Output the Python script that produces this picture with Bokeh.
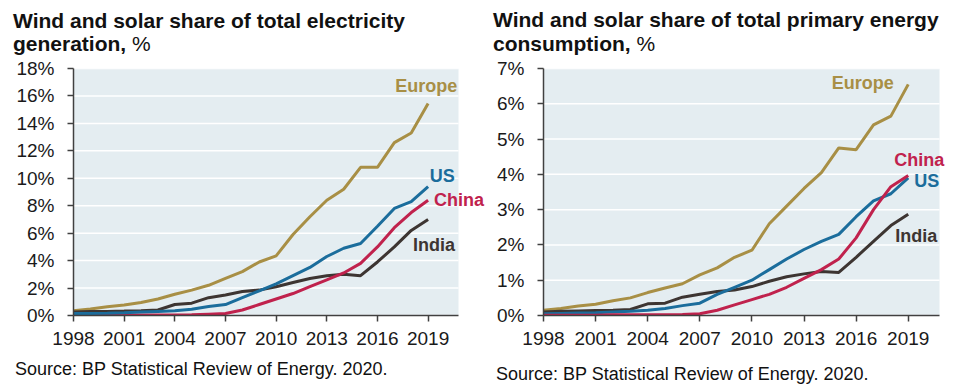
from bokeh.plotting import figure
from bokeh.models import Label, FixedTicker, PrintfTickFormatter, Range1d, BoxAnnotation, Div
from bokeh.layouts import row, column
from bokeh.embed import file_html
from bokeh.resources import INLINE

years = list(range(1998, 2020))
x_ticks = [1998, 2001, 2004, 2007, 2010, 2013, 2016, 2019]
X_END = 2020.8

# Left panel: share of total electricity generation, %
elec_europe = [0.35, 0.47, 0.64, 0.76, 0.95, 1.2, 1.55, 1.85, 2.2, 2.7, 3.2, 3.9, 4.35, 5.9, 7.2, 8.4, 9.2, 10.8, 10.8, 12.6, 13.3, 15.45]
elec_us = [0.15, 0.15, 0.16, 0.2, 0.25, 0.3, 0.35, 0.45, 0.65, 0.8, 1.3, 1.8, 2.3, 2.9, 3.5, 4.3, 4.9, 5.25, 6.5, 7.8, 8.3, 9.4]
elec_china = [0.02, 0.02, 0.02, 0.03, 0.03, 0.03, 0.04, 0.05, 0.1, 0.15, 0.4, 0.8, 1.2, 1.6, 2.1, 2.6, 3.1, 3.8, 5.0, 6.4, 7.5, 8.4]
elec_india = [0.25, 0.3, 0.3, 0.32, 0.35, 0.4, 0.8, 0.9, 1.3, 1.5, 1.75, 1.85, 2.1, 2.4, 2.7, 2.9, 3.0, 2.9, 3.9, 5.0, 6.2, 7.0]
elec_y_ticks = [0, 2, 4, 6, 8, 10, 12, 14, 16, 18]

# Right panel: share of total primary energy consumption, %
prim_europe = [0.15, 0.2, 0.27, 0.32, 0.42, 0.5, 0.65, 0.78, 0.9, 1.15, 1.35, 1.65, 1.85, 2.6, 3.1, 3.6, 4.05, 4.75, 4.7, 5.4, 5.65, 6.55]
prim_us = [0.05, 0.06, 0.07, 0.08, 0.1, 0.12, 0.15, 0.2, 0.28, 0.35, 0.6, 0.8, 1.0, 1.3, 1.6, 1.87, 2.1, 2.3, 2.8, 3.25, 3.45, 3.9]
prim_china = [0.01, 0.01, 0.01, 0.01, 0.02, 0.02, 0.02, 0.02, 0.03, 0.05, 0.15, 0.3, 0.45, 0.6, 0.8, 1.05, 1.3, 1.6, 2.2, 3.0, 3.65, 3.97]
prim_india = [0.1, 0.12, 0.13, 0.14, 0.15, 0.17, 0.33, 0.35, 0.52, 0.6, 0.68, 0.72, 0.82, 0.97, 1.1, 1.18, 1.25, 1.22, 1.65, 2.1, 2.55, 2.87]
prim_y_ticks = [0, 1, 2, 3, 4, 5, 6, 7]

C_EUROPE = "#a88f45"
C_US = "#1b6d9c"
C_CHINA = "#c0224d"
C_INDIA = "#3d3532"
BG = "#e4edf1"
AXIS = "#404040"
FONT = "Liberation Sans"


def make_panel(width, height, ymax, yticks, borders, px_per_year):
    left, top, bottom = borders
    frame_w = width - left
    x_max = 1998 + frame_w / px_per_year
    p = figure(width=width, height=height, output_backend="svg", toolbar_location=None,
               x_range=Range1d(1998, x_max), y_range=Range1d(0, ymax),
               min_border_left=left, min_border_right=0,
               min_border_top=top, min_border_bottom=bottom)
    p.outline_line_color = None
    p.background_fill_color = "white"
    p.border_fill_color = "white"
    p.xgrid.grid_line_color = None
    p.ygrid.grid_line_color = None
    p.add_layout(BoxAnnotation(left=1998, right=X_END, bottom=0, top=ymax,
                               fill_color=BG, fill_alpha=1, line_color=None, level="underlay"))
    n = len(yticks)
    p.segment(x0=[1998] * n, x1=[X_END] * n, y0=yticks, y1=yticks,
              line_color="white", line_width=1.5)
    p.xaxis.ticker = FixedTicker(ticks=x_ticks)
    p.xaxis.bounds = (1998, X_END)
    p.yaxis.ticker = FixedTicker(ticks=yticks)
    p.yaxis.formatter = PrintfTickFormatter(format="%d%%")
    for ax in (p.xaxis, p.yaxis):
        ax.axis_line_color = AXIS
        ax.axis_line_width = 1.5
        ax.major_tick_line_color = AXIS
        ax.major_tick_line_width = 1.5
        ax.major_tick_out = 6
        ax.major_tick_in = 0
        ax.minor_tick_line_color = None
        ax.major_label_text_font = FONT
        ax.major_label_text_font_size = "19px"
        ax.major_label_text_color = "#1a1a1a"
    p.xaxis.major_label_standoff = 10
    p.yaxis.major_label_standoff = 13
    return p


def add_lines(p, series):
    for vals, col in series:
        p.line(years, vals, line_color=col, line_width=3)


def lab(p, x, y, text, color):
    p.add_layout(Label(x=x, y=y, text=text, text_font=FONT, text_font_size="18px",
                       text_font_style="bold", text_color=color,
                       text_align="left", text_baseline="middle"))


def title_div(width, line1, line2, pad_top, pad_left, line_h):
    html = ('<div style="padding:%.1fpx 0 0 %dpx;font-family:\'Liberation Sans\';font-size:21px;'
            'line-height:%dpx;color:#111;font-weight:bold;white-space:nowrap">%s<br>%s '
            '<span style="font-weight:normal">%%</span></div>') % (pad_top, pad_left, line_h, line1, line2)
    return Div(text=html, width=width, height=56, margin=0)


def source_div(width, pad_top, pad_left):
    html = ('<div style="padding:%.1fpx 0 0 %dpx;font-family:\'Liberation Sans\';font-size:18px;'
            'line-height:17px;color:#111;white-space:nowrap">Source: BP Statistical Review of Energy. 2020.</div>') % (pad_top, pad_left)
    return Div(text=html, width=width, height=29, margin=0)


# ---------- left panel ----------
p1 = make_panel(488, 304, 18, elec_y_ticks, (73, 12, 45), (458 - 73) / (X_END - 1998))
add_lines(p1, [(elec_europe, C_EUROPE), (elec_india, C_INDIA), (elec_china, C_CHINA), (elec_us, C_US)])
lab(p1, 2017.05, 16.7, "Europe", C_EUROPE)
lab(p1, 2019.1, 10.2, "US", C_US)
lab(p1, 2019.35, 8.45, "China", C_CHINA)
lab(p1, 2018.1, 5.15, "India", C_INDIA)

# ---------- right panel ----------
p2 = make_panel(467, 304, 7, prim_y_ticks, (55, 11, 38), (939 - 543) / (X_END - 1998))
add_lines(p2, [(prim_europe, C_EUROPE), (prim_india, C_INDIA), (prim_us, C_US), (prim_china, C_CHINA)])
lab(p2, 2014.6, 6.6, "Europe", C_EUROPE)
lab(p2, 2018.2, 4.42, "China", C_CHINA)
lab(p2, 2019.35, 3.8, "US", C_US)
lab(p2, 2018.25, 2.25, "India", C_INDIA)

t1 = title_div(488, "Wind and solar share of total electricity", "generation,", 8.5, 13, 23)
t2 = title_div(467, "Wind and solar share of total primary energy", "consumption,", 8.4, 5, 24)
s1 = source_div(488, 1.3, 15)
s2 = source_div(467, 6.3, 8)

layout = column(row(t1, t2, spacing=0), row(p1, p2, spacing=0), row(s1, s2, spacing=0), spacing=0)
open("out.html", "w").write(file_html(layout, INLINE))
